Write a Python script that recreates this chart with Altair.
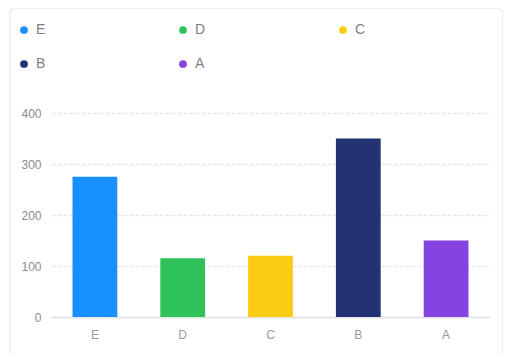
import altair as alt
import pandas as pd

categories = ["E", "D", "C", "B", "A"]
values = [275, 115, 120, 350, 150]
colors = ["#1890FF", "#2FC25B", "#FACC14", "#223273", "#8543E0"]

df = pd.DataFrame({"name": categories, "value": values})

card = alt.Chart(pd.DataFrame({"k": [0]})).mark_rect(
    fillOpacity=0, stroke="#ececec", strokeWidth=1.5, cornerRadius=6
).encode(
    x=alt.value(-41), x2=alt.value(452), y=alt.value(-105), y2=alt.value(242)
)

bars = alt.Chart(df).mark_bar(width={"band": 0.51}).encode(
    x=alt.X("name:N", sort=categories, title=None,
            scale=alt.Scale(paddingInner=0, paddingOuter=0),
            axis=alt.Axis(labelAngle=0, labelPadding=12, ticks=False,
                          domainColor="#e6e6e6", domainWidth=2,
                          labelColor="#999999", labelFontSize=12, grid=False)),
    y=alt.Y("value:Q", title=None, scale=alt.Scale(domain=[0, 400]),
            axis=alt.Axis(values=[0, 100, 200, 300, 400], ticks=False, domain=False,
                          labelPadding=10, labelColor="#8c8c8c", labelFontSize=12,
                          gridColor="#e8e8e8", gridDash=[4, 2], gridWidth=1.5)),
    color=alt.Color("name:N", sort=categories,
                    scale=alt.Scale(domain=categories, range=colors),
                    legend=alt.Legend(title=None, orient="none", legendX=-34, legendY=-90,
                                      columns=3, direction="horizontal",
                                      columnPadding=130, rowPadding=20,
                                      symbolType="circle", symbolSize=60,
                                      labelFontSize=14, labelColor="#808080",
                                      labelOffset=5, symbolStrokeWidth=0)),
)

chart = alt.layer(card, bars).properties(
    width=439, height=204,
    padding={"left": 43, "top": 105, "right": 13, "bottom": 36},
    autosize=alt.AutoSizeParams(type="none"),
).configure(font="Arial, Liberation Sans").configure_view(stroke=None)

chart.save("out.html", embed_options={"renderer": "svg", "actions": False})
